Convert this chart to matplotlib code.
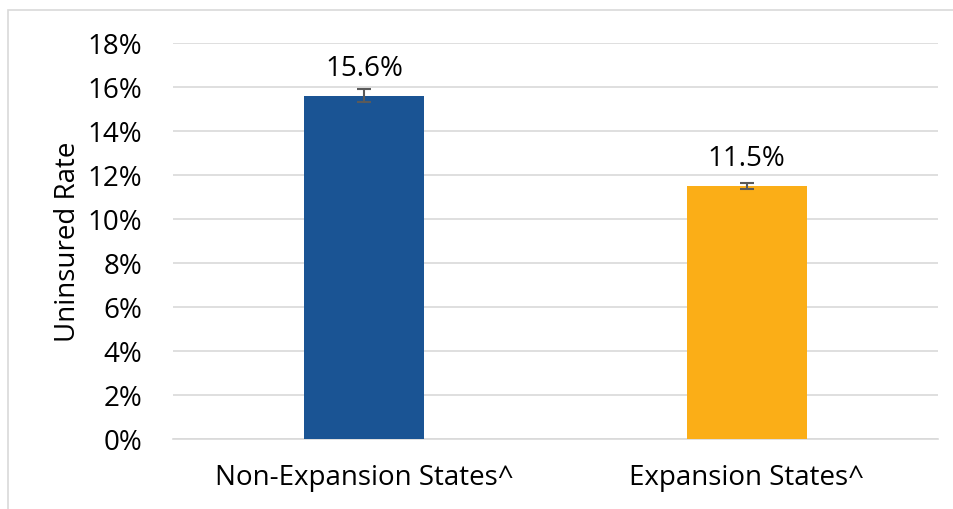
import matplotlib.pyplot as plt
from matplotlib.patches import Rectangle
import numpy as np

plt.rcParams['font.family'] = ['Open Sans', 'DejaVu Sans']

categories = ['Non-Expansion States^', 'Expansion States^']
rates = [15.6, 11.5]
err_low = [0.3, 0.15]
err_high = [0.3, 0.15]
colors = ['#1a5494', '#fbae17']

fig = plt.figure(figsize=(9.54, 5.10), dpi=100)
ax = fig.add_axes([173 / 954, 1 - 440 / 510, 765 / 954, 396 / 510])

# chart border (left and top visible)
fig.patches.append(Rectangle((8 / 954, -0.01), 1.0, 1 - 11 / 510 + 0.01,
                             transform=fig.transFigure, fill=False,
                             edgecolor='#d9d9d9', linewidth=1.2))

x = np.arange(len(categories))
ax.bar(x, rates, width=0.314, color=colors, zorder=3)
ax.errorbar(x, rates, yerr=[err_low, err_high], fmt='none', ecolor='#5a5a5a',
            elinewidth=1.5, capsize=5, capthick=1.5, zorder=4)

for xi, r in zip(x, rates):
    ax.text(xi, r + 0.95, f'{r:.1f}%', ha='center', va='baseline', fontsize=20)

ax.set_xlim(-0.5, 1.5)
ax.set_ylim(0, 18)
ax.set_yticks(np.arange(0, 19, 2))
ax.set_yticklabels([f'{v}%' for v in range(0, 19, 2)], fontsize=20)
ax.set_xticks(x)
ax.set_xticklabels(categories, fontsize=20)
ax.tick_params(axis='y', length=0, pad=22)
ax.tick_params(axis='x', length=0, pad=17)
ax.yaxis.grid(True, color='#d9d9d9', linewidth=1.2, zorder=0)
for s in ['top', 'right', 'left']:
    ax.spines[s].set_visible(False)
ax.spines['bottom'].set_color('#d9d9d9')
ax.spines['bottom'].set_linewidth(1.2)
ax.set_ylabel('Uninsured Rate', fontsize=20, labelpad=4)

fig.savefig('out.png', dpi=100)
